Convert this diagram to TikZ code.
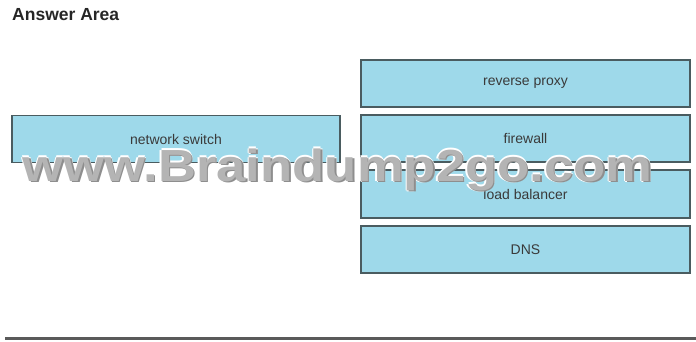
\documentclass[tikz,border=0pt]{standalone}
\usepackage{fontspec}
\setmainfont{Liberation Sans}
\definecolor{boxfill}{HTML}{9ED9EA}
\definecolor{boxline}{HTML}{4A5C60}
\definecolor{boxtext}{HTML}{3A3A3A}
\definecolor{wmgray}{HTML}{B4B4B4}
\definecolor{wmshadow}{HTML}{8E8E8E}
\definecolor{rulegray}{HTML}{5A5A5A}

\begin{document}
\begin{tikzpicture}[x=1pt,y=1pt]
\tikzstyle{every node}+=[inner sep=0pt]
\tikzstyle{box}=[draw=boxline,line width=1.1pt,fill=boxfill,text=boxtext,minimum width=329pt,minimum height=47pt,font=\fontsize{14}{15}\selectfont]
\tikzstyle{wmtext}=[font=\fontsize{45}{46}\selectfont\bfseries,xscale=1.17,anchor=base]

\useasboundingbox (0,0) rectangle (696,-342);

\draw (12,-15) node [anchor=west,font=\fontsize{17.5}{19}\selectfont\bfseries,text=black!85] (title) {Answer Area};

\node [box,minimum width=328pt] (switch) at (176,-139) {network switch};

\node [box] (proxy) at (525.5,-83.5) {reverse proxy};
\node [box] (firewall) at (525.5,-138.5) {firewall};
\node [box,minimum height=48pt] (balancer) at (525.5,-194) {load balancer};
\node [box] (dns) at (525.5,-249.5) {DNS};

\draw [rulegray,line width=3pt] (5,-338.5) -- (696,-338.5);

% watermark
\foreach \dx/\dy [count=\i] in {-1.5/0,1.5/0,0/1.5,0/-1.5}
  \node [wmtext,text=white] (halo\i) at (337.5+\dx,-181+\dy) {www.Braindump2go.com};
\node [wmtext,text=wmshadow] (wmshade) at (339,-182.5) {www.Braindump2go.com};
\node [wmtext,text=wmgray] (wm) at (337.5,-181) {www.Braindump2go.com};
\end{tikzpicture}
\end{document}
